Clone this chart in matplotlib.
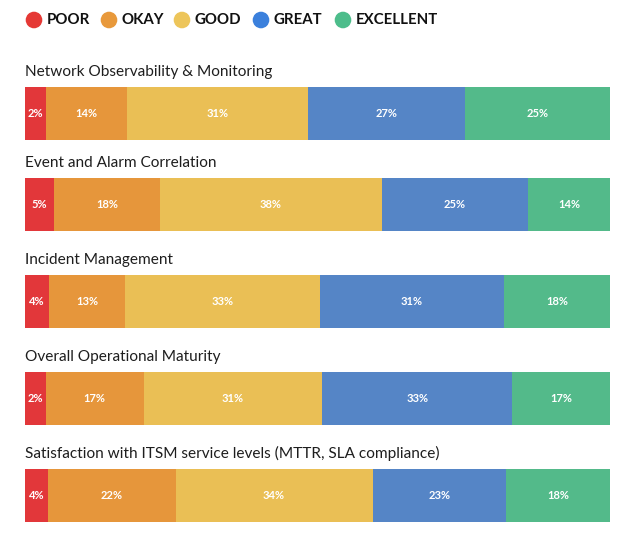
import matplotlib

matplotlib.use("Agg")
import matplotlib.pyplot as plt
from matplotlib.patches import Circle

# ---- data ----
ratings = ["POOR", "OKAY", "GOOD", "GREAT", "EXCELLENT"]
questions = [
    "Network Observability & Monitoring",
    "Event and Alarm Correlation",
    "Incident Management",
    "Overall Operational Maturity",
    "Satisfaction with ITSM service levels (MTTR, SLA compliance)",
]
poor = [2, 5, 4, 2, 4]
okay = [14, 18, 13, 17, 22]
good = [31, 38, 33, 31, 34]
great = [27, 25, 31, 33, 23]
excellent = [25, 14, 18, 17, 18]

colors = ["#E2373A", "#E6963B", "#EABF55", "#5585C6", "#53BA8A"]
legend_colors = ["#E53935", "#E8993B", "#EDC55A", "#3B80DC", "#4DBD8B"]

# ---- layout (pixels) ----
W, H = 630, 548
bar_tops = [87, 178, 275, 372, 469]
bar_h = 53
min_share = 3.6  # tiny segments get a minimum width so the label fits
legend_x = [34, 109, 182, 261, 343]
legend_y = 20

plt.rcParams["font.family"] = ["Lato", "DejaVu Sans"]

fig = plt.figure(figsize=(W / 100, H / 100), dpi=100)
ax = fig.add_axes([25 / W, 0, 585 / W, 1])
ax.set_xlim(0, 100)
ax.set_ylim(H, 0)
ax.axis("off")

series = list(zip(poor, okay, good, great, excellent))
for q, vals, top in zip(questions, series, bar_tops):
    shown = [max(v, min_share) for v in vals]
    total = sum(shown)
    shown = [s * 100 / total for s in shown]
    left = 0
    for v, s, c in zip(vals, shown, colors):
        ax.barh(top + bar_h / 2, s, height=bar_h, left=left, color=c, linewidth=0)
        ax.text(left + s / 2, top + bar_h / 2, f"{v}%", ha="center", va="center",
                color="white", fontsize=8, fontweight="bold")
        left += s
    ax.text(0, top - 11, q, ha="left", va="baseline", fontsize=11.1, color="#1e1e1e")

# ---- legend ----
lax = fig.add_axes([0, 0, 1, 1])
lax.set_xlim(0, W)
lax.set_ylim(H, 0)
lax.axis("off")
for name, c, x in zip(ratings, legend_colors, legend_x):
    lax.add_patch(Circle((x, legend_y), 8.3, color=c, linewidth=0))
    lax.text(x + 12.5, legend_y + 0.5, name, ha="left", va="center",
             fontsize=10.8, fontweight="bold", color="#111111")

fig.savefig("out.png", dpi=100)
